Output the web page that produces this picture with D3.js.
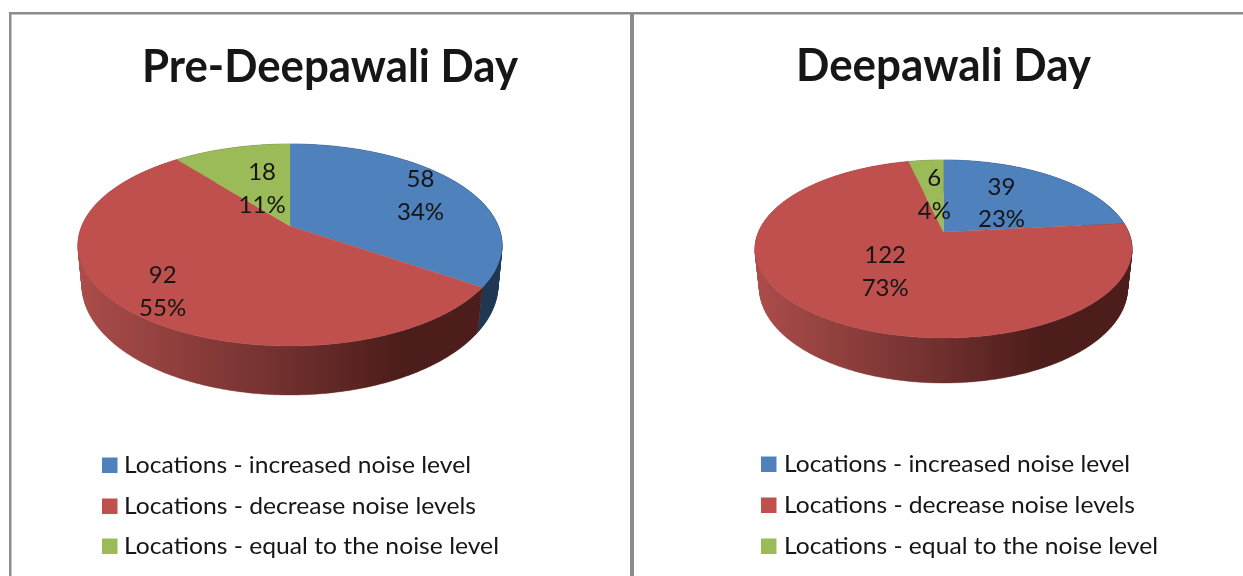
<!DOCTYPE html>
<html>
<head>
<meta charset="utf-8">
<script src="https://cdn.jsdelivr.net/npm/d3@7/dist/d3.min.js"></script>
<style>
html,body{margin:0;padding:0;background:#fff;overflow:hidden}
text{font-family:Lato,"Open Sans",sans-serif;fill:#151515}
</style>
</head>
<body>
<svg id="chart" width="1243" height="576"></svg>
<script>
// ---- data ----
const categories = ["Locations - increased noise level","Locations - decrease noise levels","Locations - equal to the noise level"];
const preDeepawaliValues = [58, 92, 18];
const preDeepawaliPercents = ["34%", "55%", "11%"];
const deepawaliValues = [39, 122, 6];
const deepawaliPercents = ["23%", "73%", "4%"];
const chartTitles = ["Pre-Deepawali Day", "Deepawali Day"];

// ---- styles ----
const topColors = ["#4f81bd", "#c0504d", "#9bbb59"];
const wallStops = [
  [[0,"#1f3753"],[1,"#1f3753"]],
  [[0,"#aa4c4a"],[0.47,"#72312f"],[0.76,"#4d1d1b"],[1,"#4d1d1b"]],
  [[0,"#6a8040"],[1,"#3f4d25"]]
];

// ---- layout ----
const panels = [
  { values: preDeepawaliValues, percents: preDeepawaliPercents, title: chartTitles[0],
    titleX: 142, titleW: 376, titleY: 82,
    top: {cx:290, cy:245, rx:212, ry:101}, low: {cx:290, cy:285, rx:208, ry:110}, e:0.188, le:0.173,
    labelFrac: [0.75, 0.8, 0.42], labelNudge: [[1,2],[0,1.5],[-1,-2]], labelGap: 33,
    legendSwatchX: 102, legendTextX: 124, legendBase: [473,514,554], legendEnd:[471,476,499] },
  { values: deepawaliValues, percents: deepawaliPercents, title: chartTitles[1],
    titleX: 796, titleW: 295, titleY: 81,
    top: {cx:943.5, cy:249, rx:188.5, ry:89}, low: {cx:943.5, cy:288, rx:184, ry:95}, e:0.19, le:0.175,
    labelFrac: [0.52, 0.5, 0.48], labelNudge: [[-2,2],[0,1.5],[0,0]], labelGap: 32.5,
    legendSwatchX: 761, legendTextX: 784, legendBase: [472,513,554], legendEnd:[1130,1135,1158] }
];

const svg = d3.select("#chart");
const defs = svg.append("defs");
defs.append("filter").attr("id","soft").append("feGaussianBlur").attr("stdDeviation",0.45);

// panel frame
const frame = svg.append("g").attr("fill","#8c8c8c");
frame.append("rect").attr("x",9).attr("y",12).attr("width",1234).attr("height",2.5);
frame.append("rect").attr("x",9).attr("y",12).attr("width",2.5).attr("height",564);
frame.append("rect").attr("x",630).attr("y",12).attr("width",4).attr("height",564);

// disc point (fraction f of the radius, angle a clockwise from 12 o'clock) under perspective
function project(g, e, a, f) {
  const X = f*Math.sin(a), Y = f*Math.cos(a), d = 1 + e*Y;
  return [g.cx + g.rx*X*Math.sqrt(1-e*e)/d, g.cy - g.ry*(Y+e)/d];
}
const line = d3.line();
const pie = d3.pie().sort(null).value(d => d);

panels.forEach((p, pi) => {
  const g = svg.append("g");
  const arcs = pie(p.values);

  // gradients for the side wall
  const x0 = p.low.cx - p.low.rx, x1 = p.low.cx + p.low.rx;
  wallStops.forEach((stops, si) => {
    const lg = defs.append("linearGradient").attr("id",`w${pi}${si}`)
      .attr("gradientUnits","userSpaceOnUse")
      .attr("x1",x0).attr("x2",x1).attr("y1",0).attr("y2",0);
    stops.forEach(s => lg.append("stop").attr("offset",s[0]).attr("stop-color",s[1]));
  });

  // side walls: thin quads between upper and lower rim
  arcs.forEach((a, i) => {
    const n = Math.max(2, Math.ceil((a.endAngle-a.startAngle)/0.01));
    const ts = d3.range(n+1).map(k => a.startAngle + (a.endAngle-a.startAngle)*k/n);
    let d = "";
    for (let k=0;k<n;k++){
      let q = [project(p.top,p.e,ts[k],1),project(p.top,p.e,ts[k+1],1),
               project(p.low,p.le,ts[k+1],1),project(p.low,p.le,ts[k],1)];
      if (d3.polygonArea(q) < 0) q.reverse();
      d += line(q) + "Z";
    }
    g.append("path").attr("d",d).attr("fill",`url(#w${pi}${i})`)
      .attr("stroke",`url(#w${pi}${i})`).attr("stroke-width",0.4);
  });

  // top face
  arcs.forEach((a, i) => {
    const n = Math.ceil((a.endAngle-a.startAngle)/0.01);
    const pts = [project(p.top,p.e,0,0)];
    d3.range(n+1).forEach(k => pts.push(project(p.top,p.e,a.startAngle+(a.endAngle-a.startAngle)*k/n,1)));
    g.append("path").attr("d",line(pts)+"Z").attr("fill",topColors[i])
      .attr("stroke",topColors[i]).attr("stroke-width",0.3);
  });

  // data labels
  arcs.forEach((a, i) => {
    const c = project(p.top,p.e,(a.startAngle+a.endAngle)/2,p.labelFrac[i]);
    [String(p.values[i]), p.percents[i]].forEach((t, k) => {
      g.append("text").attr("x",c[0]+p.labelNudge[i][0]).attr("y",c[1]+p.labelNudge[i][1] + 8 + (k-0.5)*p.labelGap)
        .attr("text-anchor","middle").attr("font-size",24).attr("filter","url(#soft)").text(t);
    });
  });

  // title
  g.append("text").attr("x",p.titleX).attr("y",p.titleY).attr("font-size",46).attr("font-weight",700)
    .attr("textLength",p.titleW).attr("lengthAdjust","spacingAndGlyphs").attr("filter","url(#soft)").text(p.title);

  // legend
  categories.forEach((c, i) => {
    g.append("rect").attr("x",p.legendSwatchX).attr("y",p.legendBase[i]-15.5)
      .attr("width",15.5).attr("height",15.5).attr("fill",topColors[i]);
    g.append("text").attr("x",p.legendTextX).attr("y",p.legendBase[i]).attr("font-size",23)
      .attr("textLength",p.legendEnd[i]-p.legendTextX).attr("lengthAdjust","spacingAndGlyphs").attr("filter","url(#soft)").text(c);
  });
});
</script>
</body>
</html>
